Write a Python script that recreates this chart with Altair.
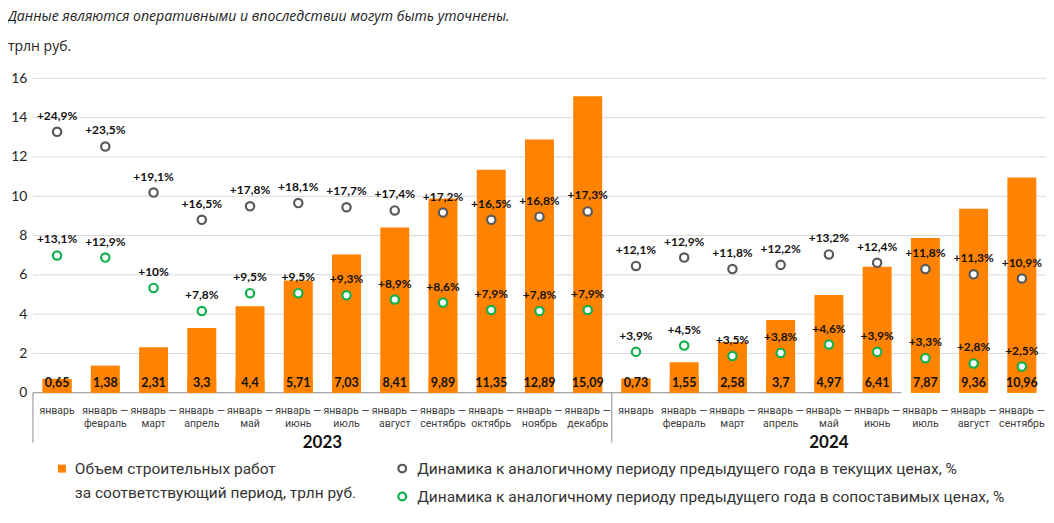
import altair as alt
import pandas as pd

# ---------------- data ----------------
year_names = ["2023", "2024"]
period_2023 = ["январь", "январь —\nфевраль", "январь —\nмарт", "январь —\nапрель", "январь —\nмай",
               "январь —\nиюнь", "январь —\nиюль", "январь —\nавгуст", "январь —\nсентябрь",
               "январь —\nоктябрь", "январь —\nноябрь", "январь —\nдекабрь"]
period_2024 = ["январь", "январь —\nфевраль", "январь —\nмарт", "январь —\nапрель", "январь —\nмай",
               "январь —\nиюнь", "январь —\nиюль", "январь —\nавгуст", "январь —\nсентябрь"]
volume_2023 = [0.65, 1.38, 2.31, 3.3, 4.4, 5.71, 7.03, 8.41, 9.89, 11.35, 12.89, 15.09]
volume_2024 = [0.73, 1.55, 2.58, 3.7, 4.97, 6.41, 7.87, 9.36, 10.96]
current_2023 = [24.9, 23.5, 19.1, 16.5, 17.8, 18.1, 17.7, 17.4, 17.2, 16.5, 16.8, 17.3]
current_2024 = [12.1, 12.9, 11.8, 12.2, 13.2, 12.4, 11.8, 11.3, 10.9]
comparable_2023 = [13.1, 12.9, 10, 7.8, 9.5, 9.5, 9.3, 8.9, 8.6, 7.9, 7.8, 7.9]
comparable_2024 = [3.9, 4.5, 3.5, 3.8, 4.6, 3.9, 3.3, 2.8, 2.5]
y_ticks = [0, 2, 4, 6, 8, 10, 12, 14, 16]
baseline_end = [18]  # axis base line stops after this many periods

note_text = "Данные являются оперативными и впоследствии могут быть уточнены."
unit_text = "трлн руб."
legend_bar = ["Объем строительных работ", "за соответствующий период, трлн руб."]
legend_cur = "Динамика к аналогичному периоду предыдущего года в текущих ценах, %"
legend_comp = "Динамика к аналогичному периоду предыдущего года в сопоставимых ценах, %"

# ---------------- table ----------------
def num(v):
    return f"{v:g}".replace(".", ",")

rows = []
for yr, periods, vols, curs, comps in [
    (year_names[0], period_2023, volume_2023, current_2023, comparable_2023),
    (year_names[1], period_2024, volume_2024, current_2024, comparable_2024),
]:
    for i, p in enumerate(periods):
        rows.append({
            "key": f"{yr}-{i:02d}", "period": p, "vol": vols[i], "cur": curs[i], "comp": comps[i],
            "vol_lbl": num(vols[i]), "cur_lbl": "+" + num(curs[i]) + "%", "comp_lbl": "+" + num(comps[i]) + "%",
        })
df = pd.DataFrame(rows)
keys = list(df["key"])
n1, n2 = len(period_2023), len(period_2024)
N = n1 + n2

W, H = 1015, 315
ORANGE = "#ff8200"
GRAY = "#595959"
GREEN = "#10b14b"
FONT = "Lato"
LFONT = "Roboto"

xb = alt.X("key:N", sort=keys, scale=alt.Scale(paddingInner=0.4, paddingOuter=0.2), axis=None)
y1 = alt.Scale(domain=[0, 16], nice=False)
y2 = alt.Scale(domain=[0, 30], nice=False)
yaxis = alt.Axis(orient="left", values=y_ticks, grid=False, domain=False, ticks=False, labelPadding=6,
                 labelFontSize=14, labelFont=FONT, labelColor="#262626", title=None)
base = alt.Chart(df)

grid = alt.Chart(pd.DataFrame({"g": y_ticks[1:]})).mark_rule(color="#d9d9d9", strokeWidth=1).encode(
    y=alt.Y("g:Q", scale=y1, axis=yaxis), x=alt.value(0), x2=alt.value(W))
bars = base.mark_bar(color=ORANGE).encode(x=xb, y=alt.Y("vol:Q", scale=y1, axis=yaxis))
lblbg = base.mark_bar(color=ORANGE).encode(x=xb, y=alt.value(H - 14), y2=alt.value(H))
vlbl = base.mark_text(baseline="bottom", dy=-3, fontWeight="bold", fontSize=12.5, font=FONT,
                      color="#111").encode(x=xb, y=alt.value(H), text="vol_lbl:N")
layerA = alt.layer(grid, bars, lblbg, vlbl)

cur = base.mark_point(shape="circle", size=70, strokeWidth=2.2, stroke=GRAY, fill="white",
                      fillOpacity=1, opacity=1).encode(x=xb, y=alt.Y("cur:Q", scale=y2, axis=None))
curl = base.mark_text(dy=-16, fontWeight="bold", fontSize=12, font=FONT, color="#111").encode(
    x=xb, y=alt.Y("cur:Q", scale=y2, axis=None), text="cur_lbl:N")
comp = base.mark_point(shape="circle", size=70, strokeWidth=2.2, stroke=GREEN, fill="white",
                       fillOpacity=1, opacity=1).encode(x=xb, y=alt.Y("comp:Q", scale=y2, axis=None))
compl = base.mark_text(dy=-16, fontWeight="bold", fontSize=12, font=FONT, color="#111").encode(
    x=xb, y=alt.Y("comp:Q", scale=y2, axis=None), text="comp_lbl:N")
layerB = alt.layer(cur, comp, curl, compl)

ticklbl = base.mark_text(baseline="middle", lineBreak="\n", lineHeight=13.5, fontSize=10.6, font=LFONT,
                         color="#404040").encode(x=xb, y=alt.value(H + 18), text="period:N")

inner = alt.layer(layerA, layerB, ticklbl).resolve_scale(y="independent")

xq = alt.Scale(domain=[0, N], nice=False, zero=False)
seps = alt.Chart(pd.DataFrame({"pos": [0, n1]})).mark_rule(color="#8c8c8c", strokeWidth=1).encode(
    x=alt.X("pos:Q", scale=xq, axis=None), y=alt.value(H), y2=alt.value(H + 50))
basel = alt.Chart(pd.DataFrame({"a": [0], "b": baseline_end})).mark_rule(color="#8c8c8c", strokeWidth=1).encode(
    x=alt.X("a:Q", scale=xq, axis=None), x2="b:Q", y=alt.value(H))
years = alt.Chart(pd.DataFrame({"year": year_names, "mid": [n1 / 2, n1 + n2 / 2]})).mark_text(
    fontSize=17, fontWeight="bold", font=FONT, color="#111", baseline="middle").encode(
    x=alt.X("mid:Q", scale=xq, axis=None), y=alt.value(H + 50), text="year:N")

def txt(t, x, y, **kw):
    return alt.Chart(pd.DataFrame({"t": [t]})).mark_text(align="left", baseline="middle", **kw).encode(
        x=alt.value(x), y=alt.value(y), text="t:N")

note = txt(note_text, -25, -61, fontSize=14.1, font="Open Sans", fontStyle="italic", color="#222")
unit = txt(unit_text, -25, -31, fontSize=14, font="Open Sans", color="#222")
lsq = alt.Chart(pd.DataFrame({"t": [0]})).mark_square(size=64, color=ORANGE, opacity=1).encode(
    x=alt.value(29), y=alt.value(391))
lt1 = txt(legend_bar[0], 42, 391, fontSize=15.5, font=LFONT, color="#333")
lt2 = txt(legend_bar[1], 42, 415, fontSize=15.5, font=LFONT, color="#333")
lc1 = alt.Chart(pd.DataFrame({"t": [0]})).mark_point(shape="circle", size=60, strokeWidth=2.2, stroke=GRAY,
                                                     fill="white", fillOpacity=1, opacity=1).encode(
    x=alt.value(370), y=alt.value(391))
lc2 = alt.Chart(pd.DataFrame({"t": [0]})).mark_point(shape="circle", size=60, strokeWidth=2.2, stroke=GREEN,
                                                     fill="white", fillOpacity=1, opacity=1).encode(
    x=alt.value(370), y=alt.value(419))
lt3 = txt(legend_cur, 385, 391, fontSize=15.5, font=LFONT, color="#333")
lt4 = txt(legend_comp, 385, 419, fontSize=15.5, font=LFONT, color="#333")

outer = alt.layer(basel, inner, seps, years, note, unit, lsq, lt1, lt2, lc1, lc2, lt3, lt4).resolve_scale(
    x="independent", y="independent"
).properties(
    width=W, height=H,
    padding={"left": 25, "top": 70, "right": 0, "bottom": 125},
    autosize=alt.AutoSizeParams(type="none"),
).configure_view(stroke=None)

chart = outer
chart.save("out.html", embed_options={"renderer": "svg", "actions": False})
